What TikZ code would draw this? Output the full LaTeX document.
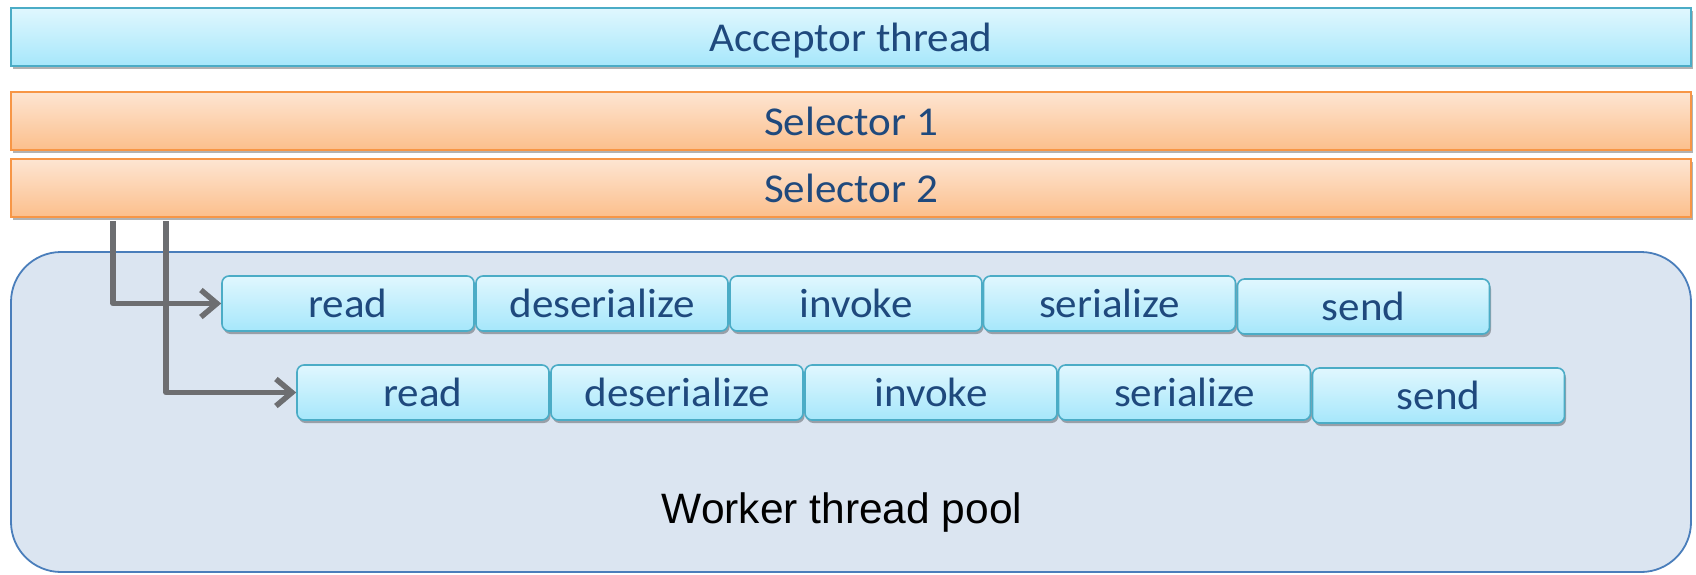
\documentclass[tikz,border=0pt]{standalone}
\usepackage{fontspec}
\setmainfont{Carlito}[FakeStretch=1.05]
\newfontfamily\arialfont{Liberation Sans}
\usetikzlibrary{arrows.meta,shadows}
\definecolor{txtblue}{RGB}{31,73,125}
\definecolor{bluetop}{RGB}{224,247,254}
\definecolor{bluebot}{RGB}{166,231,251}
\definecolor{blueline}{RGB}{75,172,198}
\definecolor{orangetop}{RGB}{253,229,210}
\definecolor{orangebot}{RGB}{252,191,140}
\definecolor{orangeline}{RGB}{247,150,70}
\definecolor{poolfill}{RGB}{219,229,241}
\definecolor{poolline}{RGB}{74,126,187}
\definecolor{arrowgray}{RGB}{109,110,113}
\tikzset{
  lbl/.style={font=\fontsize{41}{49}\selectfont, text=txtblue, inner sep=0pt, text depth=0pt},
  shade/.style={drop shadow={shadow xshift=1.5pt, shadow yshift=-3pt, opacity=0.3, fill=black}},
  bluebar/.style={lbl, shade, draw=blueline, line width=1.8pt, top color=bluetop, bottom color=bluebot,
    minimum width=1680pt, minimum height=58pt},
  orangebar/.style={lbl, shade, draw=orangeline, line width=1.8pt, top color=orangetop, bottom color=orangebot,
    minimum width=1680pt, minimum height=58pt},
  stage/.style={lbl, shade, draw=blueline, line width=1.6pt, top color=bluetop, bottom color=bluebot,
    rounded corners=7pt, minimum width=252pt, minimum height=55pt},
  pool/.style={draw=poolline, line width=1.8pt, fill=poolfill, rounded corners=50pt,
    minimum width=1680pt, minimum height=320pt, inner sep=0pt},
  poollabel/.style={font=\arialfont\fontsize{42.5}{50}\selectfont, text=black, inner sep=0pt},
  arr/.style={draw=arrowgray, line width=5.5pt, line join=round,
    -{Straight Barb[length=16pt,width=27pt]}}
}
\begin{document}
\begin{tikzpicture}[x=1pt,y=-1pt]
\useasboundingbox (0,0) rectangle (1696,574);
\node[pool] (pool) at (851,412) {};
\node[poollabel] (poollbl) at (842,513) {Worker thread pool};

\node[bluebar] (acc) at (851,37) {Acceptor thread};
\node[orangebar] (sel1) at (851,121) {Selector 1};
\node[orangebar] (sel2) at (851,188) {Selector 2};

\node[stage] (read1) at (348,303.5) {read};
\node[stage] (deser1) at (602,303.5) {deserialize};
\node[stage] (invoke1) at (856,303.5) {invoke};
\node[stage] (serial1) at (1109.5,303.5) {serialize};
\node[stage] (send1) at (1363.5,306.5) {send};

\node[stage] (read2) at (423,392.5) {read};
\node[stage] (deser2) at (677,392.5) {deserialize};
\node[stage] (invoke2) at (931,392.5) {invoke};
\node[stage] (serial2) at (1184.5,392.5) {serialize};
\node[stage] (send2) at (1438.5,395.5) {send};

\coordinate (s1) at (113,221);
\coordinate (s2) at (166,221);
\draw[arr] (s1) |- (read1.west);
\draw[arr] (s2) |- (read2.west);
\end{tikzpicture}
\end{document}
